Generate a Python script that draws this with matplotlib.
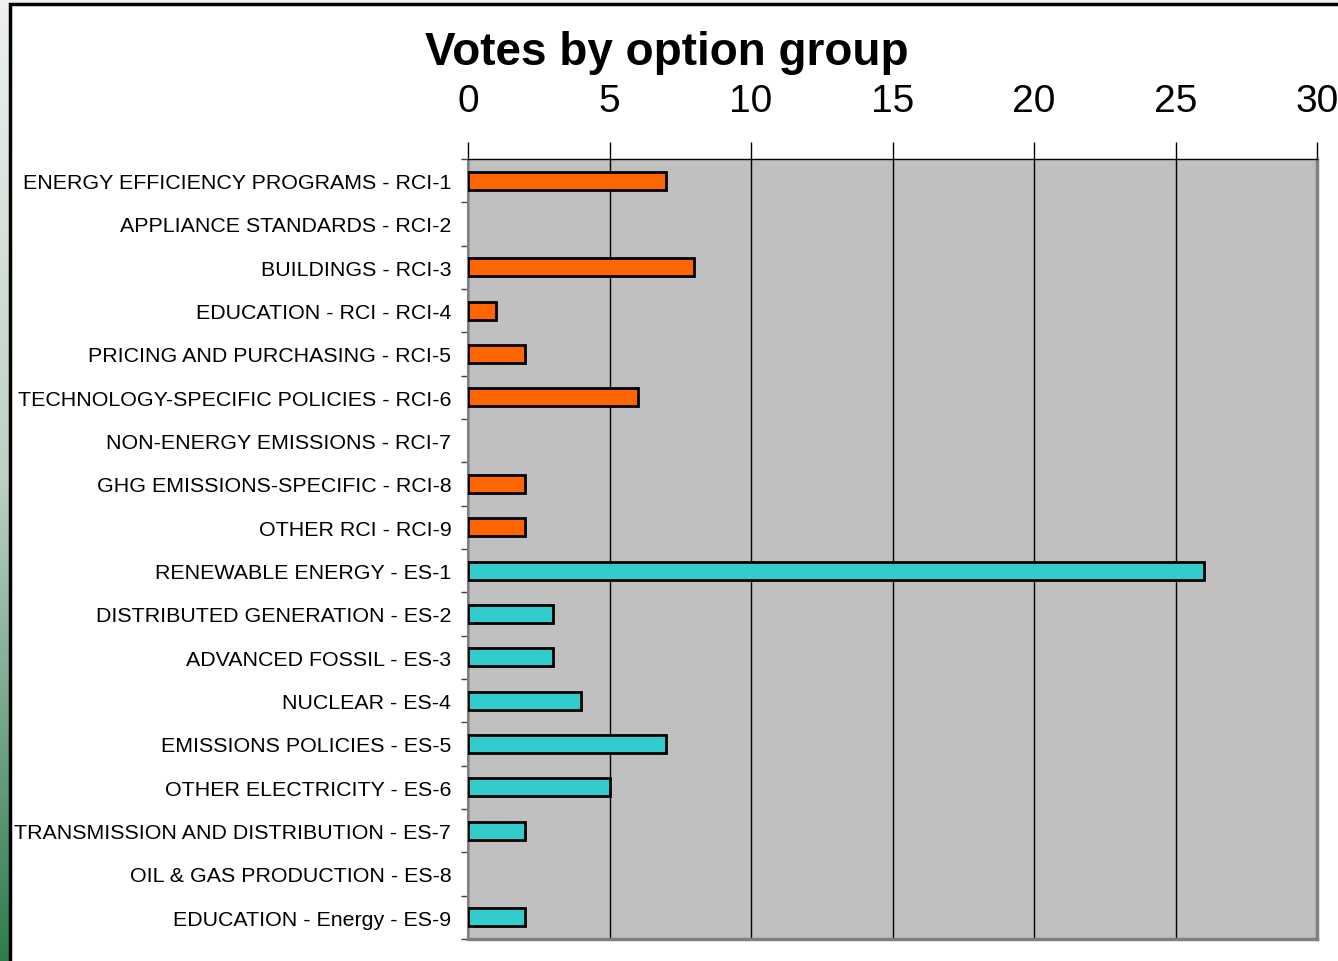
import numpy as np
import matplotlib.pyplot as plt
from matplotlib.colors import LinearSegmentedColormap
from matplotlib.patches import Rectangle

plt.rcParams['font.family'] = ['Liberation Sans', 'DejaVu Sans']

options = ['ENERGY EFFICIENCY PROGRAMS - RCI-1', 'APPLIANCE STANDARDS - RCI-2',
           'BUILDINGS - RCI-3', 'EDUCATION - RCI - RCI-4',
           'PRICING AND PURCHASING - RCI-5', 'TECHNOLOGY-SPECIFIC POLICIES - RCI-6',
           'NON-ENERGY EMISSIONS - RCI-7', 'GHG EMISSIONS-SPECIFIC - RCI-8',
           'OTHER RCI - RCI-9', 'RENEWABLE ENERGY - ES-1',
           'DISTRIBUTED GENERATION - ES-2', 'ADVANCED FOSSIL - ES-3',
           'NUCLEAR - ES-4', 'EMISSIONS POLICIES - ES-5',
           'OTHER ELECTRICITY - ES-6', 'TRANSMISSION AND DISTRIBUTION - ES-7',
           'OIL & GAS PRODUCTION - ES-8', 'EDUCATION - Energy - ES-9']
votes = [7, 0, 8, 1, 2, 6, 0, 2, 2, 26, 3, 3, 4, 7, 5, 2, 0, 2]
groups = ['RCI'] * 9 + ['ES'] * 9
group_colors = {'RCI': '#FF6600', 'ES': '#33CCCC'}
xticks = [0, 5, 10, 15, 20, 25, 30]

fig = plt.figure(figsize=(13.38, 9.62), dpi=100)

# slide background: gradient strip on the left/top
bg = fig.add_axes([0, 0, 1, 1], zorder=-10)
cmap = LinearSegmentedColormap.from_list('slide', ['#EEF1EE', '#BCD0C4', '#2E7D4E'])
bg.imshow(np.linspace(0, 1, 256).reshape(-1, 1), aspect='auto', cmap=cmap,
          extent=[0, 1, 0, 1], origin='upper')
bg.add_patch(Rectangle((10 / 1338, -0.1), 1.2, 1 - 5 / 962 + 0.1,
                       facecolor='white', edgecolor='black', linewidth=2.5))
bg.set_xlim(0, 1)
bg.set_ylim(0, 1)
bg.axis('off')

ax = fig.add_axes([468 / 1338, 1 - 940 / 962, 849 / 1338, 780 / 962])
ax.set_facecolor('#C0C0C0')

y = np.arange(len(options))
colors = [group_colors[g] for g in groups]
widths = [2 if v > 0 else 0 for v in votes]
ax.barh(y, votes, height=0.42, color=colors, edgecolor='black', linewidth=widths, zorder=3)

ax.set_xlim(0, 30)
ax.set_ylim(len(options) - 0.5, -0.5)
ax.xaxis.tick_top()
ax.set_xticks(xticks)
ax.set_xticklabels([str(t) for t in xticks], fontsize=28)
ax.tick_params(axis='x', direction='out', length=12, width=1, pad=17, color='black')
ax.grid(axis='x', color='black', linewidth=1, zorder=1)

ax.set_yticks(y)
ax.set_yticklabels(options, fontsize=15.4)
ax.tick_params(axis='y', which='major', length=0, pad=12)
ax.set_yticks(np.arange(-0.5, len(options), 1), minor=True)
ax.tick_params(axis='y', which='minor', length=5, width=1, color='#404040')

ax.spines['top'].set_color('black')
ax.spines['top'].set_linewidth(1)
ax.spines['left'].set_color('#808080')
ax.spines['left'].set_linewidth(1.5)
ax.spines['right'].set_color('#808080')
ax.spines['right'].set_linewidth(2.5)
ax.spines['bottom'].set_color('#808080')
ax.spines['bottom'].set_linewidth(2.5)

fig.text(667 / 1338, 1 - 53 / 962, 'Votes by option group', fontsize=33,
         fontweight='bold', ha='center', va='center')

fig.savefig('out.png', dpi=100)
